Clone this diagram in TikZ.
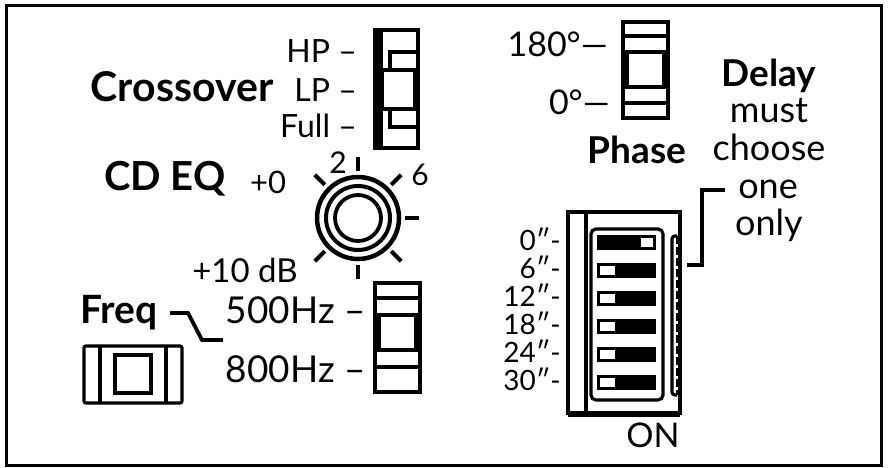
\documentclass[tikz,border=0pt]{standalone}
\usepackage{fontspec}
\setmainfont{Lato}
\usetikzlibrary{calc}
\newcommand{\fs}[1]{\fontsize{#1}{#1}\selectfont}

\begin{document}
\begin{tikzpicture}[x=1pt,y=-1pt,
    sw/.style={line width=3.2pt},
    slider/.style={line width=4.5pt,fill=white},
    link/.style={line width=3.8pt},
    txt/.style={inner sep=0pt,anchor=base}]
    \useasboundingbox (0,0) rectangle (888,468);
    % Outer frame
    \draw[line width=3pt] (6,6) rectangle (881,465);

    % Crossover slide switch and labels
    \node[txt,font=\bfseries\fs{41}] (crossover) at (182,102) {Crossover};
    \node[txt,anchor=base east,font=\fs{32}] (hp) at (357,63) {HP –};
    \node[txt,anchor=base east,font=\fs{32}] (lp) at (357,102) {LP –};
    \node[txt,anchor=base east,font=\fs{32}] (full) at (357,138) {Full –};
    \draw[sw] (375,30) rectangle (418,148);
    \fill (375,30) rectangle (383,148);
    \draw[sw] (418,52) -- (390,52) -- (390,127) -- (418,127);
    \draw[slider] (382,70) rectangle (415,109);

    % CD EQ knob
    \coordinate (knob) at (358,218);
    \node[txt,font=\bfseries\fs{40}] (cdeq) at (165,190) {CD EQ};
    \node[txt,font=\fs{31}] (plus0) at (268,193) {+0};
    \node[txt,font=\fs{30}] (two) at (338,173) {2};
    \node[txt,font=\fs{30}] (six) at (420,185) {6};
    \node[txt,font=\fs{33}] (tendb) at (245,282) {+10 dB};
    \draw[line width=4.5pt] (knob) circle[radius=41pt];
    \draw[line width=4pt] (knob) circle[radius=32pt];
    \draw[line width=3.8pt] (knob) circle[radius=23pt];
    \foreach \a in {135,90,45,0,-45,-90,-135}
        \draw[line width=4pt] ($(knob)+(\a:47)$) -- ($(knob)+(\a:61)$);

    % Freq button and slide switch
    \node[txt,font=\bfseries\fs{39}] (freq) at (119,323) {Freq};
    \node[txt,anchor=base east,font=\fs{37}] (hz500) at (366,323) {500Hz –};
    \node[txt,anchor=base east,font=\fs{37}] (hz800) at (366,382) {800Hz –};
    \coordinate (fq1) at (170,313);
    \coordinate (fq2) at (188,313);
    \coordinate (fq3) at (202,340);
    \coordinate (fq4) at (223,340);
    \draw[link] (fq1) -- (fq2) -- (fq3) -- (fq4);
    \draw[sw,rounded corners=2pt] (84,346) rectangle (182,403);
    \draw[sw] (100,346) -- (100,403) (166,346) -- (166,403);
    \draw[sw] (115,355) rectangle (151,393);
    \draw[sw] (375,283) rectangle (420,392);
    \draw[sw] (375,298) -- (420,298) (375,367) -- (420,367);
    \draw[slider] (379,315) rectangle (416,350);

    % Phase switch
    \node[txt,anchor=base east,font=\fs{34}] (deg180) at (608,57) {180°—};
    \node[txt,anchor=base east,font=\fs{34}] (deg0) at (610,115) {0°—};
    \node[txt,font=\bfseries\fs{37}] (phase) at (637,163) {Phase};
    \draw[sw] (623,22) rectangle (668,118);
    \draw[sw] (623,36) -- (668,36) (623,103) -- (668,103);
    \draw[slider] (627,52) rectangle (664,87);

    % Delay note
    \node[txt,font=\bfseries\fs{37}] (delay) at (769,87) {Delay};
    \node[txt,font=\fs{36}] (must) at (769,122) {must};
    \node[txt,font=\fs{36}] (choose) at (769,160) {choose};
    \node[txt,font=\fs{36}] (one) at (768,198) {one};
    \node[txt,font=\fs{36}] (only) at (769,235) {only};
    \coordinate (br1) at (725,190);
    \coordinate (br2) at (702,190);
    \coordinate (br3) at (702,265);
    \coordinate (br4) at (687,265);
    \draw[link] (br1) -- (br2) -- (br3) -- (br4);

    % DIP switch block
    \draw[sw] (568,212) rectangle (680,413);
    \draw[line width=2.5pt] (568,416) -- (680,416);
    \draw[sw] (586,212) -- (586,413);
    \draw[sw,rounded corners=5pt] (591,229) rectangle (663,400);
    \draw[sw,rounded corners=3pt] (677,236) -- (672,236) -- (672,395) -- (677,395);
    \draw[line width=2.5pt,dash pattern=on 8pt off 3pt] (677,236) -- (677,395);
    \foreach \i in {0,...,5}
        \fill (597,{235+28*\i}) rectangle (656,{250+28*\i});
    \fill[white] (641,238) rectangle (653,247);
    \foreach \i in {1,...,5}
        \fill[white] (600,{238+28*\i}) rectangle (615,{247+28*\i});
    \foreach \t [count=\i from 0] in {0,6,12,18,24,30}
        \node[txt,anchor=base east,font=\fs{28}] (d\t) at (561,{250+28*\i}) {\t″-};
    \node[txt,font=\fs{34}] (on) at (653,447) {ON};
\end{tikzpicture}
\end{document}
